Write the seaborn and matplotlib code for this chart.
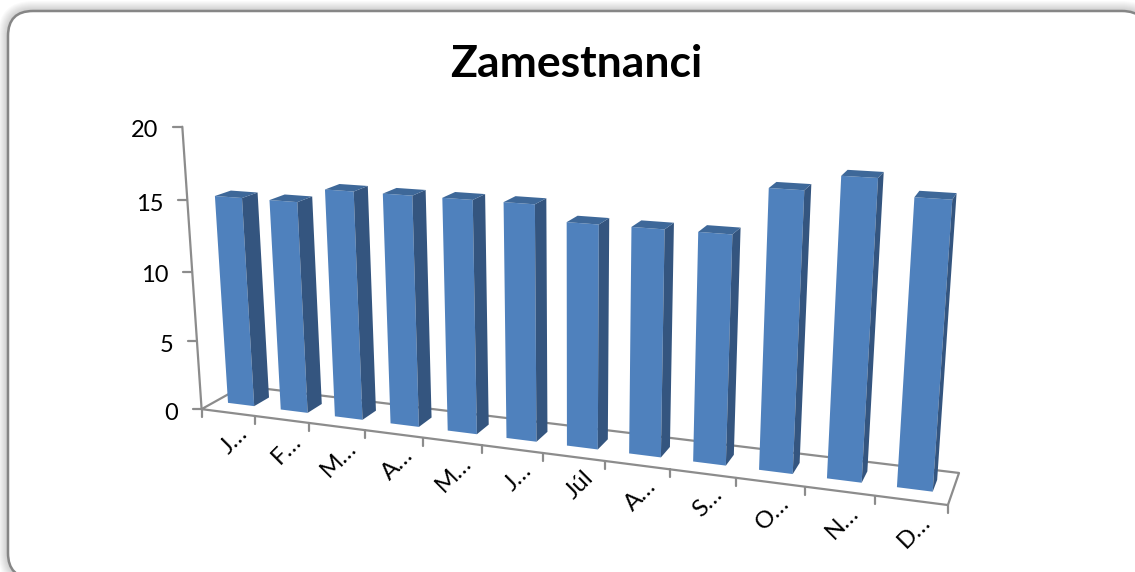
import numpy as np
import pandas as pd

import matplotlib
matplotlib.use("Agg")
import matplotlib.pyplot as plt
import seaborn as sns
from matplotlib.patches import FancyBboxPatch, Polygon, Rectangle
from matplotlib.transforms import IdentityTransform, Transform


months = ["Január", "Február", "Marec", "Apríl", "Máj", "Jún", "Júl", "August",
          "September", "Október", "November", "December"]
zamestnanci = [15, 15, 16, 16, 16, 16, 15, 15, 15, 18, 19, 18]
month_labels = ["J…", "F…", "M…", "A…", "M…", "J…", "Júl", "A…", "S…", "O…", "N…", "D…"]
y_ticks = [0, 5, 10, 15, 20]

W, H, DPI = 1135, 572, 100

# camera of the 3D view: (category, value, depth) -> picture pixels
camera = np.array([
    [49.96248961776973, -1.4233144545444687, 52.62478884047707, 227.92377647025606],
    [1.308872223474571, -14.529108405309971, -5.849213610468648, 412.5159773821271],
    [-0.013338952025828476, -0.002482630208550425, 0.045068607456440715, 1.0],
])
depth_front, depth_back = 0.33, 0.7


def project(x, v, d):
    x, v, d = np.asarray(x, float), np.asarray(v, float), np.asarray(d, float)
    pts = np.stack([x, v, d, np.ones_like(x)])
    r = camera @ pts
    return np.stack([r[0] / r[2], H - r[1] / r[2]], axis=-1)


class PlaneTransform(Transform):
    input_dims = 2
    output_dims = 2
    is_separable = False
    has_inverse = False

    def __init__(self, plane_depth):
        super().__init__()
        self.plane_depth = plane_depth

    def transform_non_affine(self, values):
        values = np.asarray(values, float)
        return project(values[:, 0], values[:, 1], np.full(len(values), self.plane_depth))


sns.set_theme(style="white")
plt.rcParams["font.family"] = ["Lato", "DejaVu Sans"]

df = pd.DataFrame({"month": months, "count": zamestnanci})

fig = plt.figure(figsize=(W / DPI, H / DPI), dpi=DPI, facecolor="white")
ax = fig.add_axes([0, 0, 1, 1])

pixels = IdentityTransform()

# bars
sns.barplot(data=df, x="month", y="count", order=months, width=0.5, color="#4F81BD",
            saturation=1, ax=ax, zorder=5)
ax.axis("off")

front = PlaneTransform(depth_front)
for bar in [p for p in ax.patches if isinstance(p, Rectangle)]:
    # bars sit a little left of the category centre in the 3D view
    bar.set_x(bar.get_x() - 0.012)
    x0, x1, v = bar.get_x(), bar.get_x() + bar.get_width(), bar.get_height()
    bar.set_transform(front)
    bar.set_clip_on(False)
    bar.set_edgecolor("none")
    side = project([x1, x1, x1, x1], [0, v, v, 0], [depth_front, depth_front, depth_back, depth_back])
    top = project([x0, x1, x1, x0], [v, v, v, v], [depth_front, depth_front, depth_back, depth_back])
    ax.add_patch(Polygon(side, transform=pixels, facecolor="#34557F", edgecolor="none", zorder=5, clip_on=False))
    ax.add_patch(Polygon(top, transform=pixels, facecolor="#3E6899", edgecolor="none", zorder=5, clip_on=False))

# soft shadow and the rounded frame
for pad in range(10, 0, -1):
    ax.add_patch(FancyBboxPatch((8, H - 578), 1139, 567, boxstyle=f"round,pad={pad},rounding_size={25 + pad}",
                                transform=pixels, facecolor="black", edgecolor="none",
                                alpha=0.018, zorder=0, clip_on=False))
ax.add_patch(FancyBboxPatch((8, H - 578), 1139, 567, boxstyle="round,pad=0,rounding_size=25",
                            transform=pixels, facecolor="white", edgecolor="#868686",
                            linewidth=1.8, zorder=1, clip_on=False))

# floor and value axis
axis_color = "#8C8C8C"
axis_lw = 1.6
floor = project([-0.5, 11.5, 11.5, -0.5, -0.5], [0, 0, 0, 0, 0], [0, 0, 1, 1, 0])
ax.plot(floor[:, 0], floor[:, 1], color=axis_color, lw=axis_lw, transform=pixels, zorder=3, clip_on=False)
axis_line = project([-0.5, -0.5], [0, max(y_ticks)], [0, 0])
ax.plot(axis_line[:, 0], axis_line[:, 1], color=axis_color, lw=axis_lw, transform=pixels, zorder=3, clip_on=False)

for t in y_ticks:
    u, w = project(-0.5, t, 0)
    ax.plot([u - 9, u], [w, w], color=axis_color, lw=axis_lw, transform=pixels, zorder=3, clip_on=False)
    ax.text(u - 24, w - 4, str(t), transform=pixels, ha="right", va="center", fontsize=17, color="black")

for k in range(len(months) + 1):
    u, w = project(k - 0.5, 0, 0)
    ax.plot([u, u], [w, w - 8], color=axis_color, lw=axis_lw, transform=pixels, zorder=3, clip_on=False)

for i, label in enumerate(month_labels):
    u, w = project(i, 0, 0)
    ax.text(u + 16, w - 18, label, transform=pixels, rotation=45, rotation_mode="anchor",
            ha="right", va="center", fontsize=17.5, color="black")

ax.text(576, H - 64, "Zamestnanci", transform=pixels, ha="center", va="center",
        fontsize=32, fontweight="bold", color="black")

fig.savefig("out.png", dpi=DPI)
plt.close(fig)
